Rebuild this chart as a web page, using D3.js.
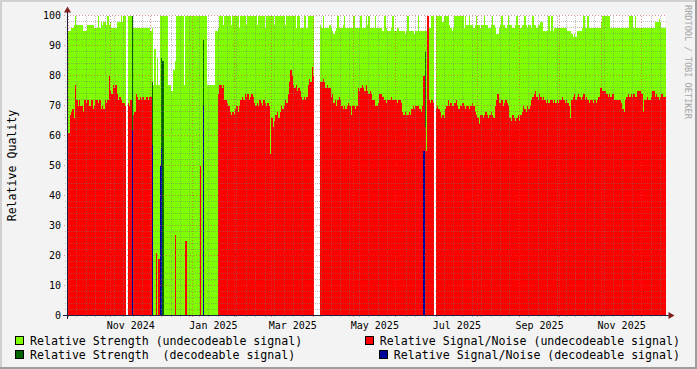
<!DOCTYPE html>
<html>
<head>
<meta charset="utf-8">
<script src="https://cdn.jsdelivr.net/npm/d3@7"></script>
<style>
  body { margin: 0; background: #f3f3f3; }
  svg { display: block; }
  text { font-family: "DejaVu Sans Mono", monospace; }
</style>
</head>
<body>
<div id="chart"></div>
<script>
// one sample per day, starting here
const startDay = new Date(2024, 8, 30);

// Relative Strength (undecodeable signal)
const strength = [
  95, 95, 95, 96, 96, 97, 100, 97, 97, 97,   97, 97, 95, 95, 95, 97, 97, 97, 97, 97,
  96, 96, 96, 100, 96, 98, 97, 98, 98, 97,   100, 97, 98, 96, 96, 96, 96, 98, 98, 98,
  100, 98, 100, 100, null, 100, 100, 100, null, 96,   96, 96, 96, 96, 96, 96, 96, 96, 96, 96,
  96, 96, 95, 96, 77, 89, 77, 86, 77, 100,   100, 100, 100, 100, 100, 77, 77, 75, 75, 82,
  85, 100, 100, 100, 100, 100, 100, 77, 100, 100,   100, 100, 100, 100, 100, 100, 100, 100, 100, 100,
  100, 100, 100, 100, 77, 77, 77, 77, 77, 77,   95, 95, 96, 100, 100, 100, 97, 100, 100, 100,
  100, 100, 97, 100, 100, 100, 100, 100, 96, 100,   100, 100, 100, 97, 100, 100, 100, 100, 100, 100,
  100, 97, 100, 100, 100, 100, 100, 96, 100, 100,   100, 100, 100, 100, 97, 100, 100, 100, 100, 100,
  100, 100, 97, 100, 100, 100, 100, 100, 100, 100,   96, 100, 100, 96, 96, 96, 100, 100, 96, 100,
  100, 100, 100, 100, null, null, null, null, 97, 96,   100, 96, 96, 96, 96, 97, 96, 95, 94, 95,
  96, 100, 96, 96, 96, 97, 100, 96, 96, 96,   96, 96, 96, 100, 96, 96, 96, 96, 100, 96,
  96, 96, 100, 97, 100, 96, 96, 96, 96, 100,   96, 96, 96, 96, 95, 95, 100, 96, 95, 95,
  95, 96, 100, 95, 95, 96, 96, 95, 95, 95,   95, 94, 95, 100, 95, 95, 95, 95, 94, 95,
  95, 100, 95, 95, 95, 95, 95, 95, 100, 96,   96, 100, 100, null, 100, 100, 100, 100, 100, 98,
  100, 100, 100, 100, 97, 96, 95, 96, 100, 100,   100, 100, 100, 100, 100, 96, 100, 97, 97, 100,
  97, 97, 96, 97, 100, 97, 97, 96, 97, 97,   100, 97, 97, 96, 96, 97, 100, 97, 96, 94,
  94, 96, 97, 100, 97, 97, 96, 97, 100, 97,   97, 96, 96, 97, 100, 97, 97, 96, 97, 97,
  100, 97, 96, 97, 97, 96, 100, 97, 97, 96,   97, 97, 98, 98, 95, 95, 95, 95, 100, 95,
  100, 95, 96, 96, 96, 96, 96, 96, 96, 96,   96, 96, 95, 95, 95, 94, 93, 94, 93, 95,
  95, 95, 95, 96, 100, 96, 96, 100, 96, 96,   96, 96, 96, 96, 96, 96, 96, 98, 100, 100,
  100, 100, 100, 100, 96, 96, 96, 96, 96, 96,   96, 96, 96, 96, 96, 96, 96, 96, 100, 100,
  100, 96, 100, 96, 96, 96, 96, 96, 96, 96,   96, 96, 96, 96, 96, 96, 96, 98, 98, 98,
  99, 98, 96, 96, 96
];

// Relative Signal/Noise (undecodeable signal)
const snr = [
  72, 61, 67, 68, 69, 66, 77, 72, 70, 72,   70, 70, 68, 72, 71, 72, 70, 70, 72, 69,
  70, 72, 72, 71, 72, 69, 70, 69, 72, 71,   72, 80, 75, 74, 77, 76, 77, 74, 72, 73,
  72, 71, 71, 70, null, 71, 70, 72, null, 67,   68, 74, 73, 72, 73, 72, 73, 72, 72, 73,
  72, 73, 73, null, null, null, 21, null, 19, null,   null, null, null, null, null, null, null, null, null, null,
  27, null, null, null, null, null, null, null, 25, null,   null, null, null, null, null, null, null, null, null, 50,
  null, null, null, null, null, null, null, null, null, null,   null, null, 74, 77, 77, 76, 77, 72, 72, 71,
  70, 68, 67, 68, 67, 69, 70, 68, 70, 72,   73, 72, 74, 73, 74, 72, 73, 74, 73, 71,
  70, 71, 70, 72, 71, 70, 72, 71, 70, 71,   70, 54, 66, 63, 65, 67, 68, 66, 68, 70,
  69, 70, 72, 71, 74, 78, 82, 80, 77, 76,   77, 75, 76, 75, 73, 72, 73, 72, 73, 77,
  79, 78, 83, 80, null, null, null, null, 78, 78,   79, 78, 76, 77, 76, 76, 73, 74, 71, 72,
  70, 72, 73, 72, 70, 69, 70, 69, 70, 71,   70, 67, 70, 70, 69, 70, 76, 75, 76, 77,
  76, 75, 77, 75, 74, 75, 74, 72, 72, 70,   70, 71, 74, 74, 73, 73, 72, 71, 72, 72,
  72, 73, 72, 72, 72, 71, 72, 72, 71, 68,   67, 68, 67, 67, 68, 67, 69, 70, 69, 70,
  70, 70, 69, 68, 70, 80, 63, 55, 100, 72,   71, 72, 71, null, 69, 70, 69, 68, 66, 67,
  66, 69, 70, 72, 70, 71, 70, 70, 71, 72,   70, 69, 70, 70, 71, 70, 69, 70, 70, 69,
  70, 71, 70, 68, 67, 66, 64, 67, 67, 66,   67, 68, 67, 66, 67, 68, 67, 66, 70, 72,
  74, 71, 71, 72, 70, 71, 72, 71, 70, 66,   65, 67, 66, 65, 66, 67, 65, 67, 68, 70,
  69, 68, 70, 69, 70, 72, 73, 74, 75, 73,   72, 74, 73, 72, 73, 72, 71, 72, 71, 72,
  72, 71, 72, 71, 72, 71, 72, 72, 73, 72,   71, 72, 71, 70, 66, 72, 73, 74, 72, 73,
  74, 73, 72, 73, 74, 72, 73, 72, 71, 72,   72, 71, 72, 71, 72, 73, 76, 76, 75, 75,
  75, 74, 73, 74, 73, 74, 74, 72, 72, 72,   72, 72, 71, 69, 68, 72, 73, 74, 73, 74,
  73, 74, 73, 73, 75, 75, 75, 74, 68, 72,   72, 73, 72, 72, 73, 75, 75, 73, 74, 73,
  72, 73, 74, 73, 73
];

// the few days with a decodeable signal (day index from startDay)
const decodeDays     = [48,  63,  69,  70,  71,  101, 265, 266];
const decodeStrength = [100, 78,  null, 86, 85,  92,  null, 88];
const decodeSnr      = [62,  57,  50,  56,  null, 70, 55,  null];

// months that carry a label
const labelMonths = ['2024-11', '2025-01', '2025-03', '2025-05', '2025-07', '2025-09', '2025-11'];
const yTicks = [0, 10, 20, 30, 40, 50, 60, 70, 80, 90, 100];

const legendNames = [
  'Relative Strength (undecodeable signal)',
  'Relative Signal/Noise (undecodeable signal)',
  'Relative Strength  (decodeable signal)',
  'Relative Signal/Noise (decodeable signal)'
];

const col_strength = '#7fff00';
const col_snr = '#ff0000';
const col_strength_dec = '#006400';
const col_snr_dec = '#00009c';

const chart_width = 697;
const chart_height = 369;
const plot_left = 67, plot_right = 665.5, plot_top = 15.5, plot_bottom = 315.5;
const n_days = strength.length;

const svg = d3.select('#chart')
    .append('svg')
    .attr('width', chart_width)
    .attr('height', chart_height);

// background + shaded frame
svg.append('rect').attr('width', chart_width).attr('height', chart_height).attr('fill', '#f3f3f3');
svg.append('rect').attr('x', 0).attr('y', 0).attr('width', chart_width).attr('height', 2).attr('fill', '#d0d0d0');
svg.append('rect').attr('x', 0).attr('y', 0).attr('width', 2).attr('height', chart_height).attr('fill', '#d0d0d0');
svg.append('rect').attr('x', 0).attr('y', chart_height - 2).attr('width', chart_width).attr('height', 2).attr('fill', '#9e9e9e');
svg.append('rect').attr('x', chart_width - 2).attr('y', 0).attr('width', 2).attr('height', chart_height).attr('fill', '#9e9e9e');

// scales
const x_scale = d3.scaleTime()
    .domain([startDay, d3.timeDay.offset(startDay, n_days)])
    .range([plot_left, plot_right]);

const y_scale = d3.scaleLinear()
    .domain([0, 100])
    .range([plot_bottom, plot_top]);

// canvas
svg.append('rect')
    .attr('x', plot_left).attr('y', plot_top - 0.5)
    .attr('width', plot_right - plot_left).attr('height', plot_bottom - plot_top + 0.5)
    .attr('fill', '#ffffff');

// expand the sparse decodeable lists into daily series
const strengthDec = new Array(n_days).fill(null);
const snrDec = new Array(n_days).fill(null);
decodeDays.forEach((d, i) => {
    strengthDec[d] = decodeStrength[i];
    snrDec[d] = decodeSnr[i];
});

// each day is a step; close every run at the start of the next day
function stepPoints(vals) {
    const pts = [];
    vals.forEach((v, i) => {
        pts.push({ t: d3.timeDay.offset(startDay, i), v: v });
        if (v != null && (i === vals.length - 1 || vals[i + 1] == null)) {
            pts.push({ t: d3.timeDay.offset(startDay, i + 1), v: v });
        }
    });
    return pts;
}

const area = d3.area()
    .defined(p => p.v != null)
    .x(p => x_scale(p.t))
    .y0(y_scale(0))
    .y1(p => y_scale(p.v))
    .curve(d3.curveStepAfter);

const layers = [
    [strength, col_strength],
    [strengthDec, col_strength_dec],
    [snr, col_snr],
    [snrDec, col_snr_dec]
];

svg.append('g')
    .selectAll('path')
    .data(layers)
    .enter()
    .append('path')
    .attr('d', d => area(stepPoints(d[0])))
    .attr('fill', d => d[1])
    .attr('shape-rendering', 'crispEdges');

// grid, drawn over the data like rrdtool does
const endDay = d3.timeDay.offset(startDay, n_days);
const months = d3.timeMonth.range(d3.timeDay.offset(startDay, 1), endDay);
const weeks = d3.timeMonday.range(startDay, endDay)
    .filter(w => !months.some(m => Math.abs(x_scale(m) - x_scale(w)) < 2));

const grid = svg.append('g').attr('shape-rendering', 'crispEdges');

grid.selectAll('.vminor')
    .data(weeks)
    .enter()
    .append('line')
    .attr('x1', d => Math.round(x_scale(d)) + 0.5)
    .attr('x2', d => Math.round(x_scale(d)) + 0.5)
    .attr('y1', plot_top).attr('y2', plot_bottom + 2)
    .attr('stroke', 'rgba(120,120,120,0.45)')
    .attr('stroke-dasharray', '1,1');

const hMinor = d3.range(2, 101, 2).filter(v => v % 10 !== 0);
grid.selectAll('.hminor')
    .data(hMinor)
    .enter()
    .append('line')
    .attr('x1', plot_left - 2).attr('x2', plot_right)
    .attr('y1', d => y_scale(d)).attr('y2', d => y_scale(d))
    .attr('stroke', 'rgba(120,120,120,0.45)')
    .attr('stroke-dasharray', '1,1');

grid.selectAll('.vmajor')
    .data(months)
    .enter()
    .append('line')
    .attr('x1', d => Math.round(x_scale(d)) + 0.5)
    .attr('x2', d => Math.round(x_scale(d)) + 0.5)
    .attr('y1', plot_top).attr('y2', plot_bottom + 3)
    .attr('stroke', 'rgba(210,70,70,0.6)')
    .attr('stroke-dasharray', '1,2');

grid.selectAll('.hmajor')
    .data(yTicks.filter(v => v > 0))
    .enter()
    .append('line')
    .attr('x1', plot_left - 3).attr('x2', plot_right)
    .attr('y1', d => y_scale(d)).attr('y2', d => y_scale(d))
    .attr('stroke', 'rgba(210,70,70,0.6)')
    .attr('stroke-dasharray', '1,2');

// axes lines with arrows
svg.append('line')
    .attr('x1', plot_left - 4).attr('x2', plot_right + 6)
    .attr('y1', plot_bottom).attr('y2', plot_bottom)
    .attr('stroke', '#202040').attr('shape-rendering', 'crispEdges');
svg.append('line')
    .attr('x1', plot_left + 0.5).attr('x2', plot_left + 0.5)
    .attr('y1', plot_bottom + 3).attr('y2', plot_top - 6)
    .attr('stroke', '#202040').attr('shape-rendering', 'crispEdges');
svg.append('path')
    .attr('d', `M${plot_right + 3},${plot_bottom - 3.5}L${plot_right + 9},${plot_bottom}L${plot_right + 3},${plot_bottom + 3.5}Z`)
    .attr('fill', '#7f1f1f');
svg.append('path')
    .attr('d', `M${plot_left - 3},${plot_top - 3}L${plot_left + 0.5},${plot_top - 9}L${plot_left + 4},${plot_top - 3}Z`)
    .attr('fill', '#7f1f1f');

// x labels, centred in their month
const parseMonth = d3.timeParse('%Y-%m');
const labelDates = labelMonths.map(s => {
    const m = parseMonth(s);
    return new Date((+m + +d3.timeMonth.offset(m, 1)) / 2);
});

const x_axis = d3.axisBottom(x_scale)
    .tickValues(labelDates)
    .tickFormat(d3.timeFormat('%b %Y'))
    .tickSize(0);

svg.append('g')
    .attr('transform', `translate(0,${plot_bottom})`)
    .call(x_axis)
    .call(g => g.select('.domain').remove())
    .call(g => g.selectAll('text')
        .attr('y', 13.5).attr('dy', 0)
        .attr('font-family', '"DejaVu Sans Mono", monospace')
        .attr('font-size', 10).attr('fill', '#000'));

const y_axis = d3.axisLeft(y_scale)
    .tickValues(yTicks)
    .tickSize(0)
    .tickPadding(6);

svg.append('g')
    .attr('transform', `translate(${plot_left},0)`)
    .call(y_axis)
    .call(g => g.select('.domain').remove())
    .call(g => g.selectAll('text')
        .attr('font-family', '"DejaVu Sans Mono", monospace')
        .attr('font-size', 10).attr('fill', '#000'));

// y title
svg.append('text')
    .attr('transform', `translate(15.5,${(plot_top + plot_bottom) / 2}) rotate(-90)`)
    .attr('text-anchor', 'middle')
    .attr('font-size', 11.6)
    .attr('fill', '#000')
    .text('Relative Quality');

// watermark
svg.append('text')
    .attr('transform', 'translate(685,5) rotate(90)')
    .attr('font-size', 8.6)
    .attr('fill', '#a6a6a6')
    .text('RRDTOOL / TOBI OETIKER');

// legend: two columns, right one flush right
const legendCols = [col_strength, col_snr, col_strength_dec, col_snr_dec];
const legend = svg.append('g').attr('font-size', 11.6);
legendNames.forEach((name, i) => {
    const row = Math.floor(i / 2);
    const right = i % 2 === 1;
    const base = 345 + row * 14;
    const t = legend.append('text')
        .attr('y', base)
        .attr('fill', '#000')
        .attr('xml:space', 'preserve')
        .style('white-space', 'pre')
        .text(name);
    let tx = 30;
    if (right) {
        tx = 680 - t.node().getComputedTextLength();
    }
    t.attr('x', tx);
    legend.append('rect')
        .attr('x', tx - 14.5).attr('y', base - 8.5)
        .attr('width', 8).attr('height', 8)
        .attr('fill', legendCols[i])
        .attr('stroke', '#000')
        .attr('shape-rendering', 'crispEdges');
});
</script>
</body>
</html>
